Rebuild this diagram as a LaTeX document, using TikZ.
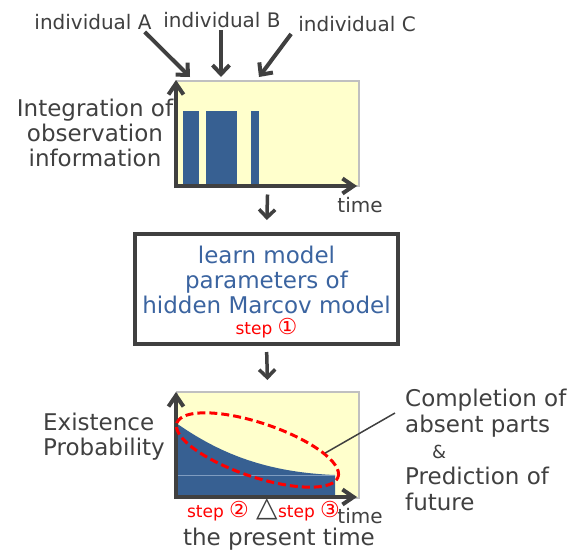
\documentclass[tikz,border=0pt]{standalone}
\usepackage{fontspec}
\setmainfont{DejaVu Sans}
\usetikzlibrary{arrows.meta,shapes.geometric}
\definecolor{ink}{HTML}{404040}
\definecolor{paper}{HTML}{FFFFCC}
\definecolor{frame}{HTML}{C0C0C0}
\definecolor{bar}{HTML}{376092}
\definecolor{boxtext}{HTML}{3B64A0}
\definecolor{grid}{HTML}{7F9CC0}
% enlarged circled step number
\newcommand{\stepnum}[1]{{\fontsize{22}{19}\selectfont\raisebox{-0.5pt}{#1}}}

\begin{document}
\begin{tikzpicture}[x=1pt,y=-1pt,
  lbl/.style={text=ink, font=\fontsize{23}{25}\selectfont, inner sep=0pt, align=center},
  small/.style={text=ink, font=\fontsize{20}{22}\selectfont, inner sep=0pt},
  steplbl/.style={text=red, font=\fontsize{17}{19}\selectfont, inner sep=0pt},
  feed/.style={draw=ink, line width=4pt, -{Straight Barb[length=9pt,width=17pt]}},
  flow/.style={draw=ink, line width=3.5pt, -{Straight Barb[length=8pt,width=16pt]}},
  axisline/.style={draw=ink, line width=4pt, -{Straight Barb[length=11pt,width=15pt]}},
  plotarea/.style={fill=paper, draw=frame, line width=1.5pt, inner sep=0pt, anchor=north west},
]
\useasboundingbox (0,0) rectangle (581,550);

% ---- observation chart ----
\node[plotarea, minimum width=182pt, minimum height=105pt] (chart1) at (176,80) {};
\fill[bar] (183,111) rectangle (199,185);
\fill[bar] (206,111) rectangle (237,185);
\fill[bar] (251,111) rectangle (259,185);
\draw[axisline] (176,188) -- (176,80);
\draw[axisline] (174,186) -- (357,186);

\node[small] (indA) at (93,22) {individual A};
\node[small] (indB) at (222,20) {individual B};
\node[small] (indC) at (357,24) {individual C};
\coordinate (hitA) at (190,77);
\coordinate (hitB) at (221,77);
\coordinate (hitC) at (259,77);
\draw[feed] ([xshift=-7pt,yshift=-2pt]indA.south east) -- (hitA);
\draw[feed] ([xshift=-1pt,yshift=-2pt]indB.south) -- (hitB);
\draw[feed] ([xshift=-7pt,yshift=-2pt]indC.south west) -- (hitC);

\node[lbl] (integ) at (95,133) {Integration of\\observation\\information};
\node[small] (time1) at (360,205) {time};

% ---- model box ----
\node[draw=ink, line width=4pt, minimum width=263pt, minimum height=110pt, inner sep=0pt] (model) at (266.5,289) {};
\node[lbl, text=boxtext] (modeltxt) at (266.5,280) {learn model\\parameters of\\hidden Marcov model};
\node[steplbl] (step1) at (266.5,328) {step \stepnum{①}};

\draw[flow, shorten <=8pt, shorten >=12pt] (chart1.south) -- (model.north);

% ---- probability chart ----
\node[plotarea, minimum width=182pt, minimum height=106pt] (chart2) at (176,391) {};
\draw[flow, shorten <=6pt, shorten >=11pt] (model.south) -- (chart2.north);
\fill[bar] (176,423) .. controls (215,450) and (260,472) .. (335,475) -- (335,497) -- (176,497) -- cycle;
\draw[grid, line width=0.8pt] (176,475) -- (335,475);
\draw[axisline] (176,499) -- (176,392);
\draw[axisline] (174,497) -- (357,497);
\node[draw=red, line width=3pt, dash pattern=on 8pt off 4pt, ellipse, inner sep=0pt,
      minimum width=170pt, minimum height=54pt, rotate=-18.5] (ring) at (257.5,450) {};

\node[lbl, align=left, anchor=west] (exist) at (43,437) {Existence\\Probability};
\node[lbl, align=left, anchor=west, font=\fontsize{23}{26}\selectfont] (note) at (405,449.5)
  {Completion of\\absent parts\\\hspace*{27pt}{\fontsize{18}{20}\selectfont\&}\\Prediction of\\future};
\coordinate (tail) at (395,413);
\draw[ink, line width=1.5pt] (ring.16.6) -- (tail);

\node[steplbl] (step2) at (218,511) {step \stepnum{②}};
\node[text=ink, inner sep=0pt, font=\fontsize{28}{28}\selectfont] (now) at (267,509) {△};
\node[steplbl] (step3) at (309,511) {step \stepnum{③}};
\node[small] (time2) at (360,516) {time};
\node[lbl] (present) at (279,539) {the present time};
\end{tikzpicture}
\end{document}
